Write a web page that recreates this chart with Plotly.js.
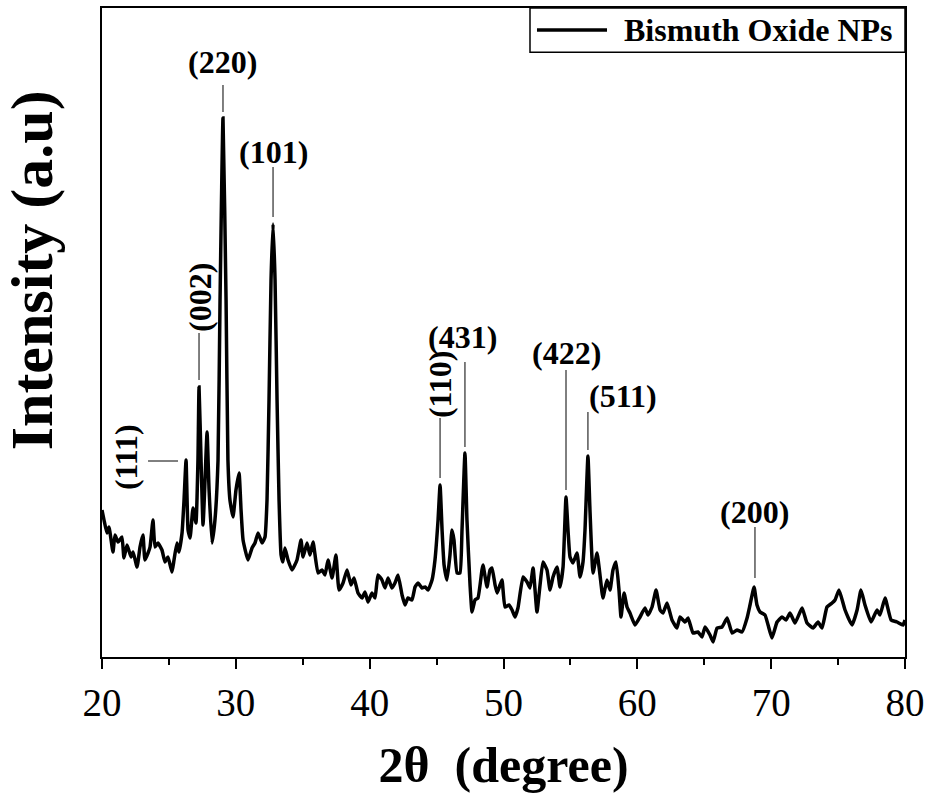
<!DOCTYPE html>
<html>
<head>
<meta charset="utf-8">
<script src="https://cdn.plot.ly/plotly-3.0.1.min.js"></script>
<style>
  html, body { margin: 0; padding: 0; background: #fff; }
  #chart { width: 929px; height: 797px; }
</style>
</head>
<body>
<div id="chart"></div>
<script>
// 2-theta (degree) values
const twoTheta = [
  20.00, 20.15, 20.37, 20.52, 20.82, 20.97, 21.20, 21.49, 21.64, 21.87,
  22.17, 22.32, 22.62, 22.84, 23.06, 23.21, 23.44, 23.59, 23.81, 23.96,
  24.18, 24.48, 24.71, 24.93, 25.23, 25.38, 25.60, 25.75, 25.98, 26.13,
  26.28, 26.43, 26.58, 26.80, 27.02, 27.17, 27.25, 27.40, 27.55, 27.70,
  27.85, 28.00, 28.22, 28.44, 28.67, 28.82, 29.04, 29.27, 29.41, 29.56,
  29.79, 30.01, 30.24, 30.39, 30.54, 30.91, 31.21, 31.43, 31.66, 31.96,
  32.18, 32.33, 32.48, 32.63, 32.78, 32.93, 33.08, 33.23, 33.38, 33.52,
  33.67, 33.90, 34.20, 34.57, 34.87, 35.02, 35.32, 35.54, 35.77, 36.14,
  36.44, 36.66, 36.89, 37.19, 37.48, 37.71, 38.01, 38.31, 38.61, 38.83,
  39.13, 39.43, 39.65, 39.88, 40.17, 40.40, 40.62, 40.92, 41.15, 41.37,
  41.67, 41.89, 42.12, 42.42, 42.64, 42.86, 43.16, 43.39, 43.61, 43.91,
  44.14, 44.36, 44.66, 44.88, 45.11, 45.26, 45.41, 45.56, 45.78, 46.00,
  46.15, 46.30, 46.53, 46.75, 46.90, 47.12, 47.27, 47.50, 47.65, 47.87,
  48.09, 48.39, 48.47, 48.77, 48.99, 49.14, 49.37, 49.52, 49.74, 49.89,
  50.11, 50.41, 50.64, 50.86, 51.08, 51.46, 51.76, 51.98, 52.21, 52.50,
  52.73, 52.95, 53.25, 53.48, 53.70, 54.00, 54.22, 54.45, 54.67, 54.82,
  54.97, 55.19, 55.49, 55.72, 55.94, 56.09, 56.31, 56.46, 56.69, 56.99,
  57.21, 57.43, 57.73, 57.96, 58.18, 58.41, 58.63, 58.78, 59.01, 59.23,
  59.45, 59.83, 60.20, 60.57, 60.80, 61.10, 61.40, 61.70, 61.92, 62.22,
  62.59, 62.96, 63.19, 63.56, 63.79, 64.16, 64.53, 64.83, 65.06, 65.43,
  65.66, 65.96, 66.33, 66.71, 67.08, 67.45, 67.82, 68.20, 68.42, 68.72,
  68.94, 69.17, 69.54, 69.77, 70.06, 70.44, 70.81, 71.11, 71.41, 71.78,
  72.31, 72.68, 73.13, 73.50, 73.80, 74.17, 74.55, 74.77, 75.07, 75.52,
  76.04, 76.42, 76.71, 77.01, 77.46, 77.91, 78.13, 78.51, 78.96, 79.40,
  79.85, 80.00
];

// Intensity (arbitrary units)
const intensity = [
  147, 137, 124, 130, 105, 122, 115, 120,  99, 112,
  100, 105,  90, 110, 122,  97, 104, 110, 137, 110,
  114, 107,  95, 100,  85,  97, 114, 105, 124, 157,
  197, 127, 119, 149, 134, 197, 270, 197, 132, 177,
  225, 167, 114, 137, 197, 357, 539, 357, 197, 157,
  140, 167, 184, 147, 117,  97, 109, 114, 124, 114,
  120, 157, 257, 377, 433, 377, 257, 157, 102,  95,
  109,  97,  87,  97, 117, 100, 114, 102, 115,  84,
   87,  82,  97,  79, 102,  67,  74,  87,  72,  79,
   64,  59,  65,  55,  64,  59,  82,  77,  69,  79,
   69,  74,  82,  62,  52,  59,  57,  70,  74,  69,
   70,  67,  77,  97, 137, 172, 127,  92,  77, 102,
  127, 117,  84,  84, 127, 204, 137,  72,  45,  57,
   59,  87,  92,  70,  87,  89,  72,  64,  72,  77,
   50,  52,  47,  40,  49,  80,  75,  69,  89,  45,
   72,  95,  87,  67,  80,  90,  70,  90, 160, 127,
  100,  94, 104,  80,  95, 127, 201, 147,  84, 104,
   82,  59,  77,  67,  87,  95,  67,  40,  64,  50,
   44,  32,  40,  49,  42,  50,  67,  47,  44,  54,
   37,  29,  40,  35,  39,  24,  25,  20,  30,  22,
   15,  29,  30,  39,  24,  27,  25,  39,  52,  70,
   52,  45,  42,  32,  19,  35,  40,  37,  44,  34,
   49,  34,  29,  35,  29,  50,  54,  57,  67,  47,
   32,  47,  67,  52,  35,  47,  42,  59,  37,  35,
   32,  37
];

// Peak labels (Miller indices)
const peakLabels = ["(111)", "(002)", "(220)", "(101)", "(110)", "(431)", "(422)", "(511)", "(200)"];
const xTickVals = [20, 30, 40, 50, 60, 70, 80];
const seriesName = "Bismuth Oxide NPs";

const serif = "Liberation Serif, Times New Roman, serif";

const trace = {
  x: twoTheta,
  y: intensity,
  type: "scatter",
  mode: "lines",
  name: seriesName,
  line: { color: "#000", width: 3.5, shape: "spline", smoothing: 0.4 },
  hoverinfo: "skip",
  showlegend: false
};

// label placements [textX, textY, angle, lineX0, lineY0, lineX1, lineY1]
const labelPos = [
  [21.80, 200, -90, 23.44, 196, 25.68, 196],
  [27.32, 360, -90, 27.25, 324, 27.25, 277],
  [29.04, 595,   0, 29.04, 572, 29.04, 545],
  [32.78, 505,   0, 32.78, 490, 32.78, 440],
  [45.26, 273, -90, 45.26, 239, 45.26, 179],
  [46.97, 320,   0, 47.12, 295, 47.12, 210],
  [54.67, 304,   0, 54.67, 287, 54.67, 167],
  [58.93, 261,   0, 56.31, 245, 56.31, 207],
  [68.79, 145,   0, 68.79, 130, 68.79,  79]
];

const annotations = peakLabels.map((t, i) => ({
  x: labelPos[i][0], y: labelPos[i][1], xref: "x", yref: "y",
  text: "<b>" + t + "</b>", showarrow: false, textangle: labelPos[i][2],
  font: { family: serif, size: 32, color: "#000" },
  xanchor: "center", yanchor: "middle"
}));

// y-axis title (placed above centre, as in the original)
annotations.push({
  x: -0.087, y: 0.596, xref: "paper", yref: "paper",
  text: "<b>Intensity (a.u)</b>", showarrow: false, textangle: -90,
  font: { family: serif, size: 60, color: "#000" },
  xanchor: "center", yanchor: "middle"
});

// legend text
annotations.push({
  x: 0.6476, y: 0.966, xref: "paper", yref: "paper",
  text: "<b>" + seriesName + "</b>", showarrow: false,
  font: { family: serif, size: 32, color: "#000" },
  xanchor: "left", yanchor: "middle"
});

const shapes = labelPos.map(p => ({
  type: "line", xref: "x", yref: "y",
  x0: p[3], y0: p[4], x1: p[5], y1: p[6],
  line: { color: "#000", width: 1 }
}));

// legend box and sample line
shapes.push({
  type: "rect", xref: "paper", yref: "paper",
  x0: 0.533, x1: 1.0, y0: 0.932, y1: 1.0,
  fillcolor: "#fff", line: { color: "#000", width: 1.5 }
});
shapes.push({
  type: "line", xref: "paper", yref: "paper",
  x0: 0.5417, x1: 0.6289, y0: 0.966, y1: 0.966,
  line: { color: "#000", width: 3.5 }
});

const layout = {
  width: 929, height: 797,
  margin: { l: 102, r: 24, t: 8, b: 140 },
  paper_bgcolor: "#fff", plot_bgcolor: "#fff",
  showlegend: false,
  xaxis: {
    range: [20, 80],
    tickvals: xTickVals,
    ticks: "outside", ticklen: 10, tickwidth: 2, tickcolor: "#000",
    minor: { dtick: 5, ticks: "outside", ticklen: 6, tickwidth: 2, tickcolor: "#000" },
    showline: true, linecolor: "#000", linewidth: 2, mirror: true,
    showgrid: false, zeroline: false,
    tickfont: { family: serif, size: 39, color: "#000" },
    title: { text: "<b>2θ  (degree)</b>", font: { family: serif, size: 50, color: "#000" }, standoff: 24 }
  },
  yaxis: {
    range: [0, 649],
    showticklabels: false, ticks: "",
    showline: true, linecolor: "#000", linewidth: 2, mirror: true,
    showgrid: false, zeroline: false
  },
  annotations: annotations,
  shapes: shapes
};

Plotly.newPlot("chart", [trace], layout, { staticPlot: true, displayModeBar: false });
</script>
</body>
</html>
